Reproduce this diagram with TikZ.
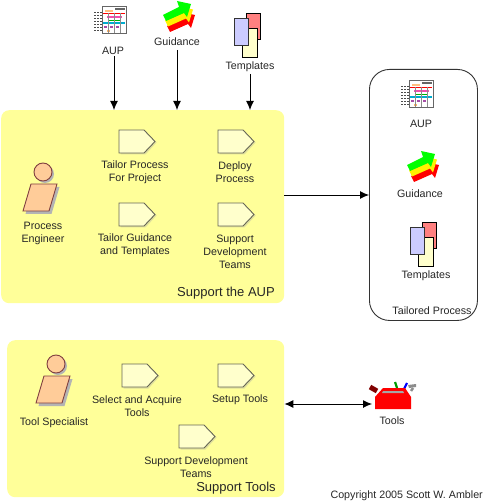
\documentclass[tikz,border=0pt]{standalone}
\usepackage{fontspec}
\setmainfont{Liberation Sans}
\usetikzlibrary{arrows.meta}
\definecolor{panel}{HTML}{FFFF99}
\definecolor{paper}{HTML}{FFFFCC}
\definecolor{skin}{HTML}{FFCC99}
\definecolor{skinline}{HTML}{804040}
\definecolor{procline}{HTML}{666655}
\definecolor{shadowc}{HTML}{B4B4B4}
\tikzset{
  x=1pt,y=-1pt,
  lbl/.style={font=\fontsize{10.7}{13}\selectfont,align=center,inner sep=0pt,text=black!85,yshift=-1.6pt},
  bigl/.style={font=\fontsize{13}{15}\selectfont,inner sep=0pt,text=black!85,yshift=-1.2pt},
  panelbox/.style={fill=panel,draw=none,rounded corners=8pt,anchor=north west,inner sep=0pt},
  arr/.style={draw=black,line width=0.9pt,-{Latex[length=9pt,width=8pt]}},
  darr/.style={draw=black,line width=0.9pt,{Latex[length=9pt,width=8pt]}-{Latex[length=9pt,width=8pt]}},
  procbox/.pic={
    \fill[panel!60!olive!60] (1.5,1.5) -- (26.5,1.5) -- (37.5,12.5) -- (26.5,24.5) -- (1.5,24.5) -- cycle;
    \draw[fill=paper,draw=procline,line width=0.9pt] (0,0) -- (25,0) -- (36,11.5) -- (25,23) -- (0,23) -- cycle;
  },
  actor/.pic={
    \fill[shadowc] (22,-10) circle (9);
    \fill[shadowc] (10.5,3) -- (36.5,3) -- (28.5,30) -- (2.5,30) -- cycle;
    \draw[fill=skin,draw=skinline,line width=0.9pt] (20,-12) circle (9);
    \draw[fill=skin,draw=skinline,line width=0.9pt] (8,0) -- (34,0) -- (26,27) -- (0,27) -- cycle;
  },
  docicon/.pic={
    \foreach \yy in {5,8,11,14,17,20,23}{\draw[black!70,line width=0.9pt,dash pattern=on 2pt off 1pt] (1,\yy) -- (9,\yy);}
    \draw[fill=white,draw=black!60,line width=1pt] (9,0) rectangle (33,27);
    \fill[black!60] (22,1) rectangle (32,3);
    \fill[orange!50] (12,3.5) rectangle (20,5);
    \fill[red] (10,6) rectangle (32,7.5);
    \fill[magenta!70] (14,9) rectangle (29,11);
    \fill[green!70!black] (16,13) rectangle (28,14.5);
    \fill[cyan!80!green] (10,15.5) rectangle (32,17.5);
    \fill[violet!70] (11,19) rectangle (14,21);
    \fill[violet!70] (17,19) rectangle (20,21);
    \fill[violet!70] (23,19) rectangle (26,21);
    \fill[orange!60] (14,23) rectangle (17,25);
    \draw[black!45,line width=0.5pt] (15,6) -- (15,26) (21,6) -- (21,26) (27,6) -- (27,26);
  },
  guideicon/.pic={
    \foreach \dx/\dy/\cc in {4/11/red,2/5.5/yellow,0/0/green}{
      \fill[\cc,shift={(\dx,\dy)}] (0,15) -- (16,7) -- (14,1) -- (28,4) -- (24,17) -- (21,13) -- (3,21) -- cycle;
    }
  },
  tmplicon/.pic={
    \draw[fill=red!50,draw=black,line width=0.9pt] (12,0) rectangle (26,26);
    \draw[fill=paper,draw=black,line width=0.9pt] (8,15) rectangle (23,44);
    \draw[fill=blue!20,draw=black!80,line width=0.9pt] (0,5) rectangle (14,32);
  },
  toolicon/.pic={
    \draw[line width=2.2pt,green!60!black] (20,2) -- (22,8);
    \draw[line width=2.2pt,blue] (32,3) -- (29,9);
    \draw[line width=2.5pt,black!45] (38,8) -- (36,11);
    \fill[black!45] (33,5) -- (41,4) -- (41,7) -- (34,8) -- cycle;
    \draw[line width=5pt,red!50!black] (-5,7) -- (2,11);
    \fill[red] (8,8) -- (30,8) -- (36,17) -- (36,29) -- (0,29) -- (0,17) -- cycle;
    \fill[black!35] (8,11) -- (28,11) -- (29,13) -- (7,13) -- cycle;
  },
}
\begin{document}
\begin{tikzpicture}
\useasboundingbox (0,0) rectangle (485,502);
% panels
\node[panelbox,minimum width=283pt,minimum height=193pt] (supportbox) at (1,110) {};
\node[panelbox,minimum width=277pt,minimum height=157pt] (toolsbox) at (7,340) {};
\node[draw=black!80,line width=0.9pt,fill=white,rounded corners=20pt,anchor=north west,inner sep=0pt,minimum width=108pt,minimum height=251pt] (tailored) at (369,69) {};
% top inputs
\pic at (93,7) {docicon};
\node[lbl] (aup1) at (113,49) {AUP};
\pic at (163,0) {guideicon};
\node[lbl] (guid1) at (177,40) {Guidance};
\pic at (234,13) {tmplicon};
\node[lbl] (tmpl1) at (250,65) {Templates};
\coordinate (a1) at (114,56);
\coordinate (a2) at (177,50);
\coordinate (a3) at (250,74);
\draw[arr] (a1) -- (a1 |- supportbox.north);
\draw[arr] (a2) -- (a2 |- supportbox.north);
\draw[arr] (a3) -- (a3 |- supportbox.north);
% support the AUP
\pic at (23,184) {actor};
\node[lbl] (pe) at (43,231.5) {Process\\Engineer};
\pic at (119,130) {procbox};
\node[lbl] (p1) at (135,170.5) {Tailor Process\\For Project};
\pic at (218,130) {procbox};
\node[lbl] (p2) at (235,170.5) {Deploy\\Process};
\pic at (119,203) {procbox};
\node[lbl] (p3) at (135,243.5) {Tailor Guidance\\and Templates};
\pic at (218,203) {procbox};
\node[lbl] (p4) at (235,250) {Support\\Development\\Teams};
\node[bigl] (st1) at (226,292) {Support the AUP};
% tailored process
\pic at (400,81) {docicon};
\node[lbl] (aup2) at (421,122) {AUP};
\pic at (407,150) {guideicon};
\node[lbl] (guid2) at (420,192) {Guidance};
\pic at (410,222) {tmplicon};
\node[lbl] (tmpl2) at (426,274) {Templates};
\node[lbl] (tp) at (432,309) {Tailored Process};
\coordinate (b1) at (supportbox.east |- 0,195);
\draw[arr] (b1) -- (tailored.west |- b1);
% support tools
\pic at (36,376) {actor};
\node[lbl] (ts) at (54,421) {Tool Specialist};
\pic at (122,364) {procbox};
\node[lbl] (q1) at (137,404.5) {Select and Acquire\\Tools};
\pic at (218,364) {procbox};
\node[lbl] (q2) at (240,398) {Setup Tools};
\pic at (179,425) {procbox};
\node[lbl] (q3) at (196,465.5) {Support Development\\Teams};
\node[bigl] (st2) at (236,487) {Support Tools};
% tools
\pic at (375,380) {toolicon};
\node[lbl] (tools) at (392,419) {Tools};
\coordinate (c1) at (toolsbox.east |- 0,404);
\coordinate (c2) at (372,404);
\draw[darr] (c1) -- (c2);
\node[lbl,anchor=east] (copy) at (483,494) {Copyright 2005 Scott W. Ambler};
\end{tikzpicture}
\end{document}
